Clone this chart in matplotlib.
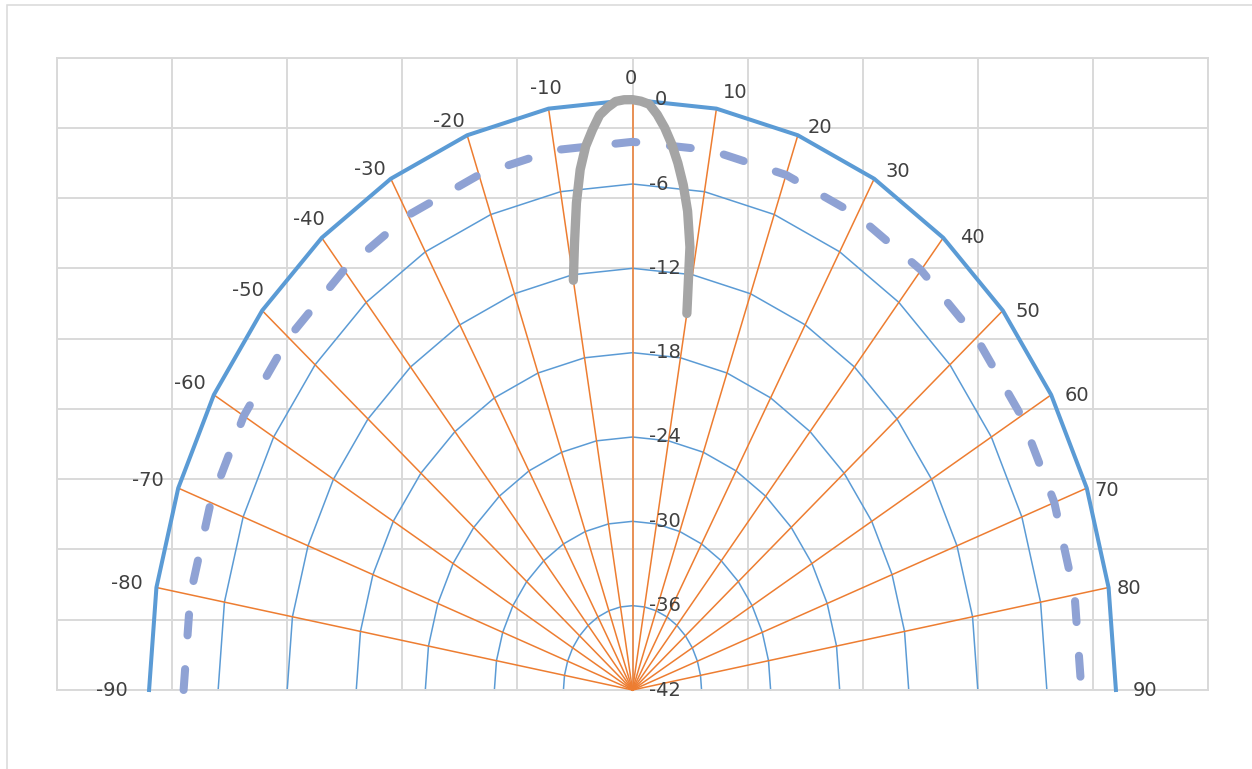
import numpy as np
import matplotlib.pyplot as plt
from matplotlib.patches import Rectangle

# polar grid drawn on an x/y chart, radius = dB + 42
angles = list(range(-90, 91, 10))
spoke_angles = list(range(-80, 81, 10))
ring_db = [-36, -30, -24, -18, -12, -6]
outer_db = 0
ref_db = -3
db_labels = [0, -6, -12, -18, -24, -30, -36, -42]

# measured beam pattern
pattern_angles = list(range(-10, 11))
pattern_db = [-12.4, -9.8, -7.0, -4.7, -3.1, -2.0, -1.0, -0.5, -0.1, 0.0, 0.0,
              -0.1, -0.3, -1.0, -1.9, -3.0, -4.3, -5.8, -7.6, -10.1, -14.8]

floor_db = -42


def to_xy(ang, db):
    a = np.radians(np.asarray(ang, dtype=float))
    r = np.asarray(db, dtype=float) - floor_db
    return r * np.sin(a), r * np.cos(a)


fig = plt.figure(figsize=(12.52, 7.69), dpi=100)
W, H = 1252, 769
ax = fig.add_axes([57 / W, (H - 690) / H, (1208 - 57) / W, (690 - 57.5) / H])
ax.set_xlim(-50, 50)
ax.set_ylim(0, 45)
ax.set_xticks(np.arange(-50, 51, 10))
ax.set_yticks(np.arange(0, 46, 5))
ax.tick_params(length=0, labelbottom=False, labelleft=False)
ax.grid(True, color='#D9D9D9', lw=1.4)
ax.set_axisbelow(True)
for s in ax.spines.values():
    s.set_color('#D9D9D9')
    s.set_linewidth(1.4)

blue = '#5B9BD5'
orange = '#ED7D31'
txt = '#404040'
font = 'DejaVu Sans'

# inner rings
for db in ring_db:
    x, y = to_xy(angles, [db] * len(angles))
    ax.plot(x, y, color=blue, lw=1.1, zorder=2, clip_on=False)

# spokes
for a in spoke_angles:
    x, y = to_xy([a, a], [floor_db, outer_db])
    ax.plot(x, y, color=orange, lw=1.1, zorder=3, clip_on=False)

# outer 0 dB ring
x, y = to_xy(angles, [outer_db] * len(angles))
ax.plot(x, y, color=blue, lw=2.9, zorder=4, clip_on=False, solid_joinstyle='round')

# -3 dB reference
x, y = to_xy(angles, [ref_db] * len(angles))
ax.plot(x, y, color='#8FA2D4', lw=5.8, zorder=5, clip_on=False,
        linestyle=(0, (2.6, 4.2)), dash_capstyle='round')

# pattern
x, y = to_xy(pattern_angles, pattern_db)
ax.plot(x, y, color='#A5A5A5', lw=6.7, zorder=6, clip_on=False,
        solid_capstyle='round', solid_joinstyle='round')

# angle labels (pixel offsets from the outer ring points)
label_offsets = {-90: (-37, 0), -80: (-30, 4), -70: (-30, 8), -60: (-24, 11),
                 -50: (-14, 20), -40: (-13, 18), -30: (-21, 9), -20: (-18, 14),
                 -10: (-3, 20), 0: (-2, 21), 10: (19, 16), 20: (22, 8),
                 30: (24, 7), 40: (29, 0), 50: (25, -1), 60: (26, -1),
                 70: (20, -2), 80: (20, -1), 90: (29, 0)}
for a in angles:
    x, y = to_xy(a, outer_db)
    ax.annotate(str(a), (x, y), xytext=label_offsets[a], textcoords='offset pixels',
                ha='center', va='center', fontsize=14, color=txt, family=font,
                annotation_clip=False, zorder=7)

# dB labels along the 0 degree spoke
for db in db_labels:
    x, y = to_xy(0, db)
    ax.annotate(str(db), (x, y), xytext=(22 if db == 0 else 17, 0),
                textcoords='offset pixels', ha='left', va='center',
                fontsize=14, color=txt, family=font, annotation_clip=False, zorder=7)

# chart border
fig.patches.append(Rectangle((7 / W, -0.1), 1.2, 1 - 5 / H + 0.1,
                             transform=fig.transFigure, fill=False,
                             edgecolor='#D9D9D9', lw=1.1))

fig.savefig('out.png', dpi=100)
